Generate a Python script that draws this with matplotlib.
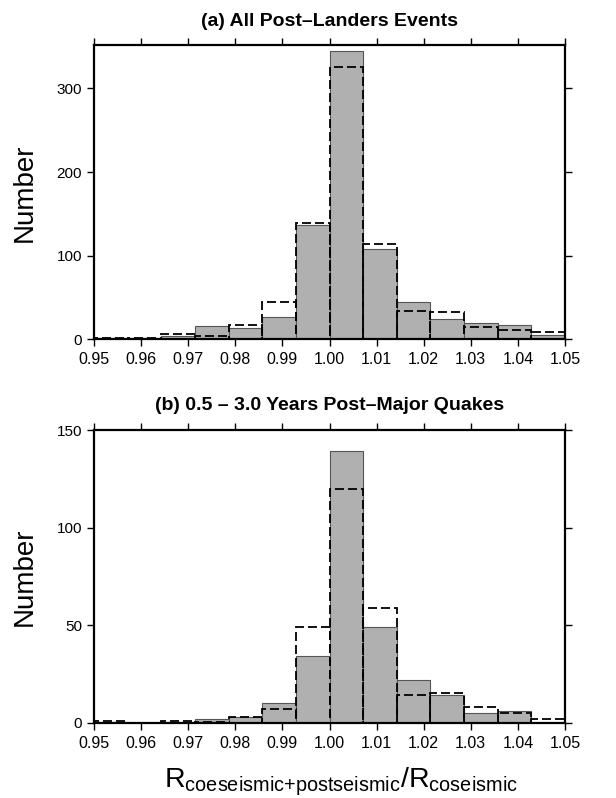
import numpy as np
import matplotlib
matplotlib.use("Agg")
import matplotlib.pyplot as plt

plt.rcParams['font.family'] = ['Liberation Sans', 'DejaVu Sans']
plt.rcParams['mathtext.fontset'] = 'custom'
plt.rcParams['mathtext.rm'] = 'Liberation Sans'
plt.rcParams['mathtext.it'] = 'Liberation Sans'

# Bin edges: 14 bins between 0.95 and 1.05
bin_edges = np.linspace(0.95, 1.05, 15)

# Panel (a): All Post-Landers Events
a_gray = [1, 1, 4, 16, 13, 27, 137, 345, 108, 45, 24, 19, 17, 5]
a_dash = [2, 2, 6, 4, 17, 44, 139, 325, 114, 34, 33, 15, 11, 9]

# Panel (b): 0.5 - 3.0 Years Post-Major Quakes
b_gray = [0.5, 0, 0.5, 2, 3, 10, 34, 139, 49, 22, 14, 5, 6, 0]
b_dash = [1, 0, 1, 0.5, 3, 7, 49, 120, 59, 14, 15, 8, 5, 2]

xticks = [0.95, 0.96, 0.97, 0.98, 0.99, 1.00, 1.01, 1.02, 1.03, 1.04, 1.05]
xticklabels = ["0.95", "0.96", "0.97", "0.98", "0.99", "1.00", "1.01", "1.02", "1.03", "1.04", "1.05"]
a_yticks = [0, 100, 200, 300]
b_yticks = [0, 50, 100, 150]

W, H = 616, 798
fig = plt.figure(figsize=(W / 100, H / 100), dpi=100)

def make_axes(top_px, bot_px):
    return fig.add_axes([94 / W, (H - bot_px) / H, 471 / W, (bot_px - top_px) / H])

def draw(ax, gray, dash, ylim, yticks, title, title_y):
    left = bin_edges[:-1]
    width = np.diff(bin_edges)
    ax.bar(left, gray, width=width, align='edge', color='#b0b0b0',
           edgecolor='#555555', linewidth=0.8, zorder=2)
    ax.bar(left, dash, width=width, align='edge', fill=False,
           edgecolor='black', linewidth=1.3, linestyle=(0, (5, 2.2)), zorder=3)
    ax.set_xlim(0.95, 1.05)
    ax.set_ylim(*ylim)
    ax.set_xticks(xticks)
    ax.set_xticklabels(xticklabels)
    ax.set_yticks(yticks)
    ax.tick_params(direction='out', length=5, width=1, top=True, right=True)
    ax.tick_params(axis='x', labelsize=11.5, pad=4.5)
    ax.tick_params(axis='y', labelsize=11, pad=3.5)
    for s in ax.spines.values():
        s.set_linewidth(1.6)
        s.set_zorder(5)
    fig.text(329.5 / W, 1 - title_y / H, title, ha='center', va='center',
             fontsize=14, fontweight='bold')
    p = ax.get_position()
    fig.text(24.5 / W, (p.y0 + p.y1) / 2, "Number", rotation=90, ha='center',
             va='center', fontsize=20)

ax1 = make_axes(45.3, 339.3)
draw(ax1, a_gray, a_dash, (0, 351.5), a_yticks, "(a) All Post\u2013Landers Events", 22)
ax2 = make_axes(430, 722.7)
draw(ax2, b_gray, b_dash, (0, 150), b_yticks, "(b) 0.5 \u2013 3.0 Years Post\u2013Major Quakes", 405)

fig.text(341 / W, 1 - 787 / H,
         r'$\mathregular{R_{coeseismic{+}postseismic}/R_{coseismic}}$',
         ha='center', va='baseline', fontsize=20.5)

fig.savefig("out.png", dpi=100)
